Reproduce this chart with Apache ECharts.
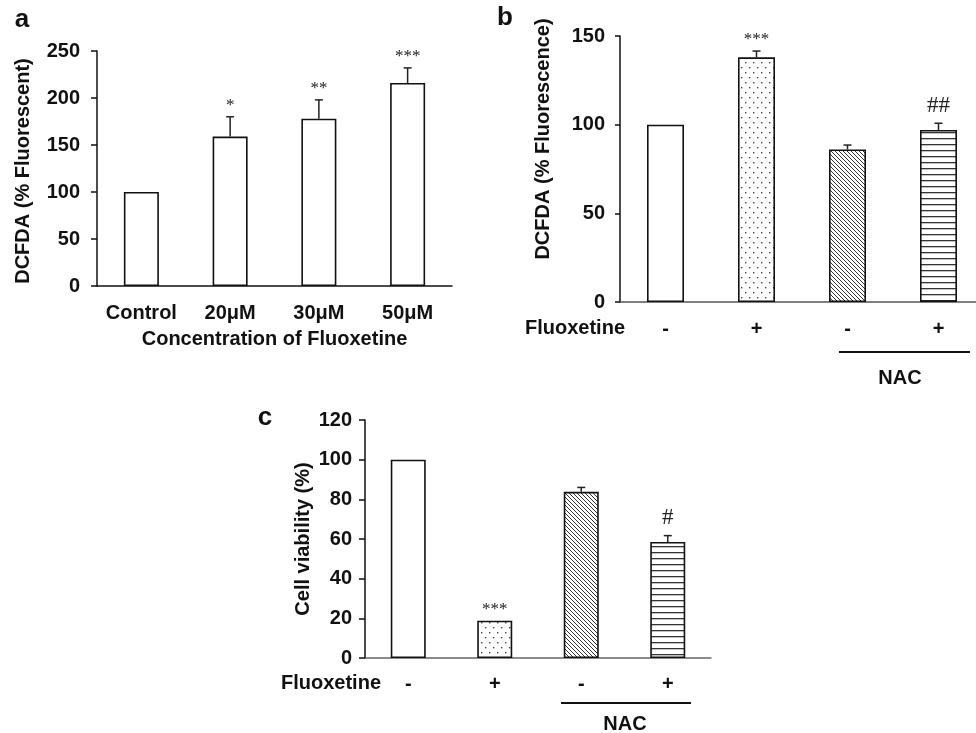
<!DOCTYPE html>
<html>
<head>
<meta charset="utf-8">
<script src="https://cdn.jsdelivr.net/npm/echarts@6/dist/echarts.min.js"></script>
<style>
  html, body { margin: 0; padding: 0; background: #fff; }
  #chart { width: 976px; height: 733px; }
</style>
</head>
<body>
<div id="chart"></div>
<script>
// panel a: DCFDA vs fluoxetine concentration
const aCats = ['Control', '20μM', '30μM', '50μM'];
const aVals = [100, 159, 178, 216];
const aErr = [0, 21, 20, 16];
const aMarks = ['', '*', '**', '***'];
const aTicks = [0, 50, 100, 150, 200, 250];
const aFills = ['plain', 'plain', 'plain', 'plain'];

// panel b: DCFDA with / without NAC
const bCats = ['ctl', 'flx', 'nac', 'nacflx'];
const bLabels = ['-', '+', '-', '+'];
const bVals = [100, 138, 86, 97];
const bErr = [0, 3.5, 2.5, 3.8];
const bMarks = ['', '***', '', '##'];
const bTicks = [0, 50, 100, 150];

// panel c: cell viability
const cCats = ['ctl', 'flx', 'nac', 'nacflx'];
const cLabels = ['-', '+', '-', '+'];
const cVals = [100, 18.8, 83.8, 58.5];
const cErr = [0, 0, 2.2, 3.2];
const cMarks = ['', '***', '', '#'];
const cTicks = [0, 20, 40, 60, 80, 100, 120];

const nacFills = ['plain', 'dots', 'diag', 'horiz'];

const FONT = '"Liberation Sans", Arial, sans-serif';

function tile(w, h, draw) {
  const c = document.createElement('canvas');
  c.width = w; c.height = h;
  const ctx = c.getContext('2d');
  ctx.fillStyle = '#fff';
  ctx.fillRect(0, 0, w, h);
  draw(ctx, w, h);
  return { image: c, repeat: 'repeat' };
}

const fills = {
  plain: '#ffffff',
  dots: tile(8, 10, function (ctx) {
    ctx.fillStyle = '#444';
    ctx.fillRect(1, 2, 1.4, 1.4);
    ctx.fillRect(5, 7, 1.4, 1.4);
  }),
  diag: tile(4, 4, function (ctx, w, h) {
    ctx.strokeStyle = '#333';
    ctx.lineWidth = 1;
    for (let k = -1; k <= 1; k++) {
      ctx.beginPath();
      ctx.moveTo(k * w, 0);
      ctx.lineTo(k * w + w, h);
      ctx.stroke();
    }
  }),
  horiz: tile(4, 6, function (ctx) {
    ctx.fillStyle = '#333';
    ctx.fillRect(0, 0, 4, 1.3);
  })
};

function barData(vals, kinds) {
  return vals.map(function (v, i) {
    return { value: v, itemStyle: { color: fills[kinds[i]] } };
  });
}

function errRender(marks) {
  return function (params, api) {
    const i = api.value(0);
    const v = api.value(1);
    const e = api.value(2);
    const top = api.coord([i, v + e]);
    const base = api.coord([i, v]);
    const children = [];
    if (e > 0) {
      children.push({ type: 'line', shape: { x1: base[0], y1: base[1], x2: top[0], y2: top[1] }, style: { stroke: '#222', lineWidth: 1.5 } });
      children.push({ type: 'line', shape: { x1: top[0] - 4, y1: top[1], x2: top[0] + 4, y2: top[1] }, style: { stroke: '#222', lineWidth: 1.5 } });
    }
    const m = marks[params.dataIndex];
    if (m) {
      const hash = m.indexOf('#') >= 0;
      children.push({
        type: 'text', x: top[0], y: top[1] - (hash ? 6 : 3),
        style: { text: m, align: 'center', verticalAlign: 'bottom', textAlign: 'center', textVerticalAlign: 'bottom',
          font: (hash ? '23px' : '17px') + ' "Liberation Serif", serif', fill: '#222' }
      });
    }
    return { type: 'group', children: children };
  };
}

function yAxisOf(grid, ticks, margin, tickLen) {
  return {
    gridIndex: grid, type: 'value',
    min: ticks[0], max: ticks[ticks.length - 1], interval: ticks[1] - ticks[0],
    splitLine: { show: false },
    axisLine: { show: true, lineStyle: { color: '#111', width: 1.5 } },
    axisTick: { show: true, length: tickLen, lineStyle: { color: '#111', width: 1.5 } },
    axisLabel: { margin: margin, color: '#111', fontWeight: 'bold', fontSize: 20, fontFamily: FONT }
  };
}

function xAxisOf(grid, cats, labels, margin, lineColor) {
  return {
    gridIndex: grid, type: 'category', data: cats,
    axisTick: { show: false },
    axisLine: { lineStyle: { color: lineColor, width: 1.5 } },
    axisLabel: {
      margin: margin, interval: 0, color: '#111', fontWeight: 'bold', fontSize: 20, fontFamily: FONT,
      formatter: labels ? function (val, idx) { return labels[idx]; } : null
    }
  };
}

const barStyle = { borderColor: '#111', borderWidth: 1.6 };

function panelSeries(idx, vals, errs, marks, kinds, width) {
  return [
    { type: 'bar', xAxisIndex: idx, yAxisIndex: idx, barWidth: width, data: barData(vals, kinds), itemStyle: barStyle, silent: true },
    { type: 'custom', xAxisIndex: idx, yAxisIndex: idx, z: 5, renderItem: errRender(marks),
      data: vals.map(function (v, i) { return [i, v, errs[i]]; }), silent: true }
  ];
}

const boldText = function (x, y, text, size, extra) {
  return Object.assign({
    type: 'text', x: x, y: y,
    style: { text: text, font: 'bold ' + size + 'px ' + FONT, fill: '#111', align: 'center', verticalAlign: 'middle',
      textAlign: 'center', textVerticalAlign: 'middle' }
  }, extra || {});
};

const chart = echarts.init(document.getElementById('chart'));
const option = {
  backgroundColor: '#fff',
  animation: false,
  grid: [
    { left: 97, top: 51, width: 355, height: 235, outerBoundsMode: 'none' },
    { left: 620, top: 36, width: 364, height: 266, outerBoundsMode: 'none' },
    { left: 365, top: 420, width: 346, height: 238, outerBoundsMode: 'none' }
  ],
  xAxis: [
    Object.assign(xAxisOf(0, aCats, null, 17, '#111'), {
      name: 'Concentration of Fluoxetine', nameLocation: 'middle', nameGap: 43,
      nameTextStyle: { color: '#111', fontWeight: 'bold', fontSize: 20, fontFamily: FONT }
    }),
    xAxisOf(1, bCats, bLabels, 17, '#555'),
    xAxisOf(2, cCats, cLabels, 16, '#666')
  ],
  yAxis: [
    yAxisOf(0, aTicks, 17, 6),
    yAxisOf(1, bTicks, 15, 5),
    yAxisOf(2, cTicks, 13, 6)
  ],
  series: [].concat(
    panelSeries(0, aVals, aErr, aMarks, aFills, 35),
    panelSeries(1, bVals, bErr, bMarks, nacFills, 37),
    panelSeries(2, cVals, cErr, cMarks, nacFills, 35)
  ),
  graphic: [
    boldText(22, 20, 'a', 26),
    boldText(505, 18, 'b', 26),
    boldText(265, 418, 'c', 26),
    boldText(23, 171, 'DCFDA (% Fluorescent)', 20, { rotation: Math.PI / 2 }),
    boldText(543, 139, 'DCFDA (% Fluorescence)', 20, { rotation: Math.PI / 2 }),
    boldText(303, 539, 'Cell viability (%)', 20, { rotation: Math.PI / 2 }),
    boldText(575, 328, 'Fluoxetine', 20),
    boldText(331, 683, 'Fluoxetine', 20),
    { type: 'line', shape: { x1: 839, y1: 352, x2: 970, y2: 352 }, style: { stroke: '#111', lineWidth: 2 } },
    boldText(900, 378, 'NAC', 20),
    { type: 'line', shape: { x1: 561, y1: 703, x2: 691, y2: 703 }, style: { stroke: '#111', lineWidth: 2 } },
    boldText(625, 724, 'NAC', 20)
  ]
};
chart.setOption(option);
</script>
</body>
</html>
